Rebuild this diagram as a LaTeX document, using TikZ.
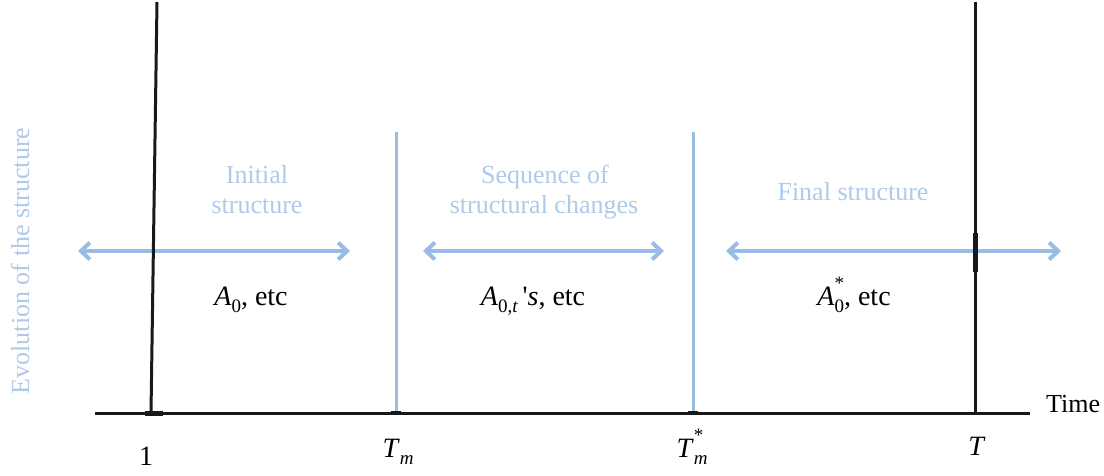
\documentclass[tikz,border=0pt]{standalone}
\usepackage{fontspec}
\setmainfont{Liberation Serif}
\usetikzlibrary{arrows.meta}
\definecolor{lblue}{RGB}{152,188,228}
\definecolor{tblue}{RGB}{176,202,234}
\definecolor{dark}{RGB}{25,25,25}
\newcommand{\mysub}[1]{\raisebox{-0.28em}{\fontsize{19}{19}\selectfont #1}}
\newcommand{\mysup}[1]{\raisebox{0.55em}{\fontsize{19}{19}\selectfont #1}}
\newcommand{\mysubsup}[2]{\rlap{\mysup{#2}}\mysub{#1}}
\tikzset{
  axisline/.style={draw=dark, line width=3pt},
  blackv/.style={draw=dark, line width=3pt},
  bluev/.style={draw=lblue, line width=3pt},
  dblarrow/.style={draw=lblue, line width=4pt, {Straight Barb[length=9pt,width=17pt,line width=4pt]}-{Straight Barb[length=9pt,width=17pt,line width=4pt]}},
  bluetext/.style={text=tblue, font=\rmfamily\fontsize{26}{28}\selectfont, anchor=base, inner sep=0pt},
  blacktext/.style={text=black, font=\rmfamily\fontsize{28}{30}\selectfont, anchor=base, inner sep=0pt},
}
\begin{document}
\begin{tikzpicture}[x=1pt,y=-1pt]
\useasboundingbox[fill=white] (0,0) rectangle (1104,475);
% coordinates
\coordinate (ax0) at (95,413);
\coordinate (ax1) at (1030,413);
\coordinate (v1top) at (157,2);
\coordinate (v1bot) at (151,413);
\coordinate (tmtop) at (396,132);
\coordinate (tmbot) at (396,413);
\coordinate (tstop) at (693,132);
\coordinate (tsbot) at (693,413);
\coordinate (ttop) at (975,2);
\coordinate (tbot) at (975,413);
\coordinate (tthick0) at (975,233);
\coordinate (tthick1) at (975,272);
\coordinate (a1l) at (78,251);
\coordinate (a1r) at (350,251);
\coordinate (a2l) at (423,251);
\coordinate (a2r) at (664,251);
\coordinate (a3l) at (726,251);
\coordinate (a3r) at (1061,251);
% arrows
\draw[dblarrow] (a1l) -- (a1r);
\draw[dblarrow] (a2l) -- (a2r);
\draw[dblarrow] (a3l) -- (a3r);
% blue verticals
\draw[bluev] (tmtop) -- (tmbot);
\draw[bluev] (tstop) -- (tsbot);
% black verticals
\draw[blackv] (v1top) -- (v1bot);
\draw[blackv] (ttop) -- (tbot);
\draw[draw=dark, line width=5pt] (tthick0) -- (tthick1);
% axis
\draw[axisline] (ax0) -- (ax1);
\draw[draw=dark, line width=5pt] ([xshift=-6pt]v1bot) -- ([xshift=12pt]v1bot);
\draw[draw=dark, line width=4pt] ([xshift=-5pt]tmbot) -- ([xshift=5pt]tmbot);
\draw[draw=dark, line width=4pt] ([xshift=-5pt]tsbot) -- ([xshift=5pt]tsbot);
% blue labels
\node[bluetext] (init1) at (257,183) {Initial};
\node[bluetext] (init2) at (257,213) {structure};
\node[bluetext] (seq1) at (545,183) {Sequence of};
\node[bluetext] (seq2) at (544,213) {structural changes};
\node[bluetext] (fin) at (853,200) {Final structure};
\node[bluetext, rotate=90] (evo) at (29,261) {Evolution of the structure};
% black labels
\node[blacktext] (lA0) at (251,305) {\textit{A}\mysub{0}, etc};
\node[blacktext] (lA0t) at (533,305) {\textit{A}\mysub{0,\textit{t}}\,\textquotesingle\textit{s}, etc};
\node[blacktext] (lA0s) at (854,305) {\textit{A}\mysubsup{0}{*}, etc};
\node[blacktext] (l1) at (146,465) {1};
\node[blacktext] (lTm) at (398,457) {\textit{T}\mysub{\textit{m}}};
\node[blacktext] (lTs) at (692,457) {\textit{T}\mysubsup{\textit{m}}{*}};
\node[blacktext] (lT) at (977,455) {\textit{T}};
\node[blacktext, anchor=base west, font=\rmfamily\fontsize{26}{28}\selectfont] (ltime) at (1046,412) {Time};
\end{tikzpicture}
\end{document}
